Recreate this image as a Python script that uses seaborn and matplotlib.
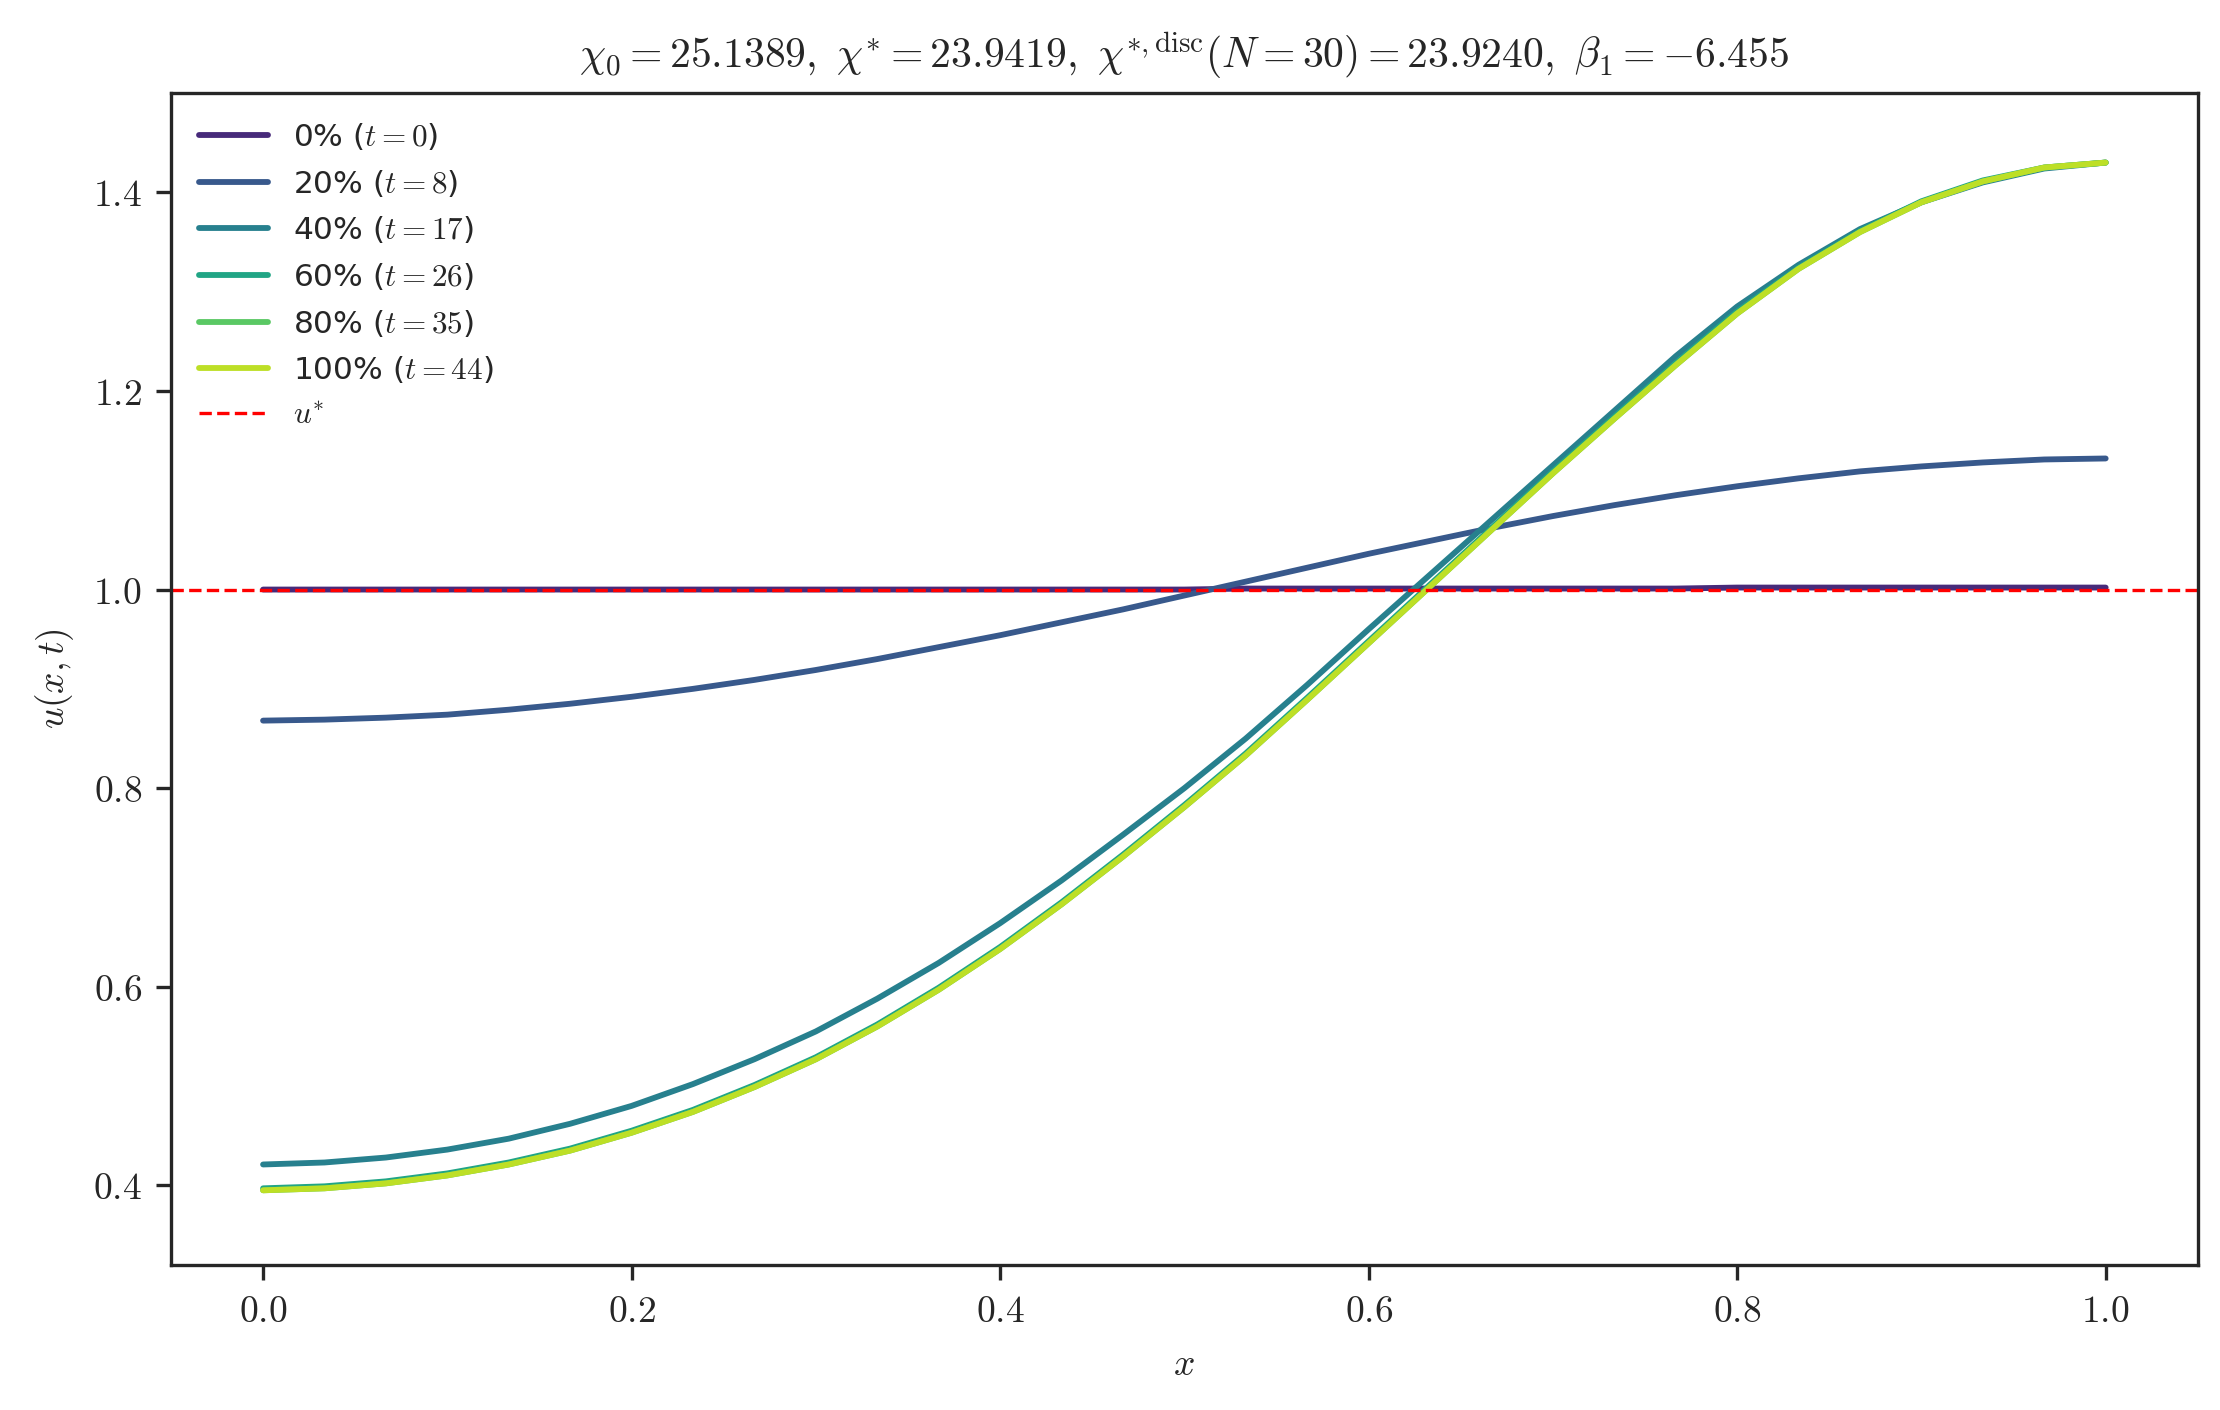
import numpy as np
import pandas as pd
import matplotlib
matplotlib.use("Agg")
import matplotlib.pyplot as plt
import seaborn as sns

sns.set_style("ticks")
plt.rcParams['mathtext.fontset'] = 'cm'
plt.rcParams['font.family'] = ['DejaVu Sans']

x = np.linspace(0, 1, 31)

u_t0 = [1.000] * 16 + [1.001] * 8 + [1.002] * 7
u_t8 = [0.868, 0.869, 0.871, 0.874, 0.879, 0.885, 0.892, 0.900, 0.909, 0.919, 0.930, 0.942,
        0.954, 0.967, 0.980, 0.994, 1.008, 1.022, 1.036, 1.049, 1.062, 1.074, 1.085, 1.095,
        1.104, 1.112, 1.119, 1.124, 1.128, 1.131, 1.132]
u_t17 = [0.421, 0.423, 0.428, 0.436, 0.447, 0.462, 0.480, 0.502, 0.527, 0.555, 0.588, 0.624,
         0.664, 0.707, 0.753, 0.800, 0.850, 0.904, 0.960, 1.015, 1.070, 1.125, 1.180, 1.235,
         1.285, 1.327, 1.363, 1.390, 1.410, 1.424, 1.430]
u_t26 = [0.397, 0.399, 0.404, 0.412, 0.423, 0.437, 0.455, 0.476, 0.501, 0.529, 0.562, 0.599,
         0.640, 0.685, 0.733, 0.783, 0.835, 0.891, 0.948, 1.005, 1.062, 1.119, 1.174, 1.228,
         1.280, 1.324, 1.361, 1.391, 1.412, 1.425, 1.430]
u_t35 = [0.395, 0.397, 0.402, 0.410, 0.421, 0.435, 0.453, 0.474, 0.499, 0.527, 0.560, 0.597,
         0.638, 0.683, 0.731, 0.781, 0.833, 0.889, 0.946, 1.003, 1.060, 1.117, 1.172, 1.226,
         1.278, 1.323, 1.360, 1.390, 1.411, 1.425, 1.430]
u_t44 = list(u_t35)

labels = [r"0% ($t=0$)", r"20% ($t=8$)", r"40% ($t=17$)",
          r"60% ($t=26$)", r"80% ($t=35$)", r"100% ($t=44$)"]
series = [u_t0, u_t8, u_t17, u_t26, u_t35, u_t44]

df = pd.concat([pd.DataFrame({"x": x, "u": s, "label": lab}) for s, lab in zip(series, labels)])

fig, ax = plt.subplots(figsize=(7.4, 4.7), dpi=300)
fig.subplots_adjust(left=0.077, right=0.99, top=0.934, bottom=0.103)
palette = [plt.cm.viridis(v) for v in np.linspace(0.12, 0.9, 6)]
sns.lineplot(data=df, x="x", y="u", hue="label", palette=palette, lw=1.4, ax=ax)
ax.axhline(1.0, color="red", ls="--", lw=0.8, label=r"$u^{*}$")

ax.set_xlim(-0.05, 1.05)
ax.set_ylim(0.32, 1.5)
xt = [0.0, 0.2, 0.4, 0.6, 0.8, 1.0]
yt = [0.4, 0.6, 0.8, 1.0, 1.2, 1.4]
ax.set_xticks(xt)
ax.set_xticklabels([f"${v:.1f}$" for v in xt], fontsize=9)
ax.set_yticks(yt)
ax.set_yticklabels([f"${v:.1f}$" for v in yt], fontsize=9)
ax.set_xlabel(r"$x$", fontsize=9)
ax.set_ylabel(r"$u(x,t)$", fontsize=9)
ax.set_title(r"$\chi_0=25.1389,\ \chi^{*}=23.9419,\ \chi^{*,\mathrm{disc}}(N=30)=23.9240,\ \beta_1=-6.455$",
             fontsize=10)
ax.legend(loc="upper left", frameon=False, fontsize=7.5, handlelength=2.2)
fig.savefig("out.png", dpi=300)
